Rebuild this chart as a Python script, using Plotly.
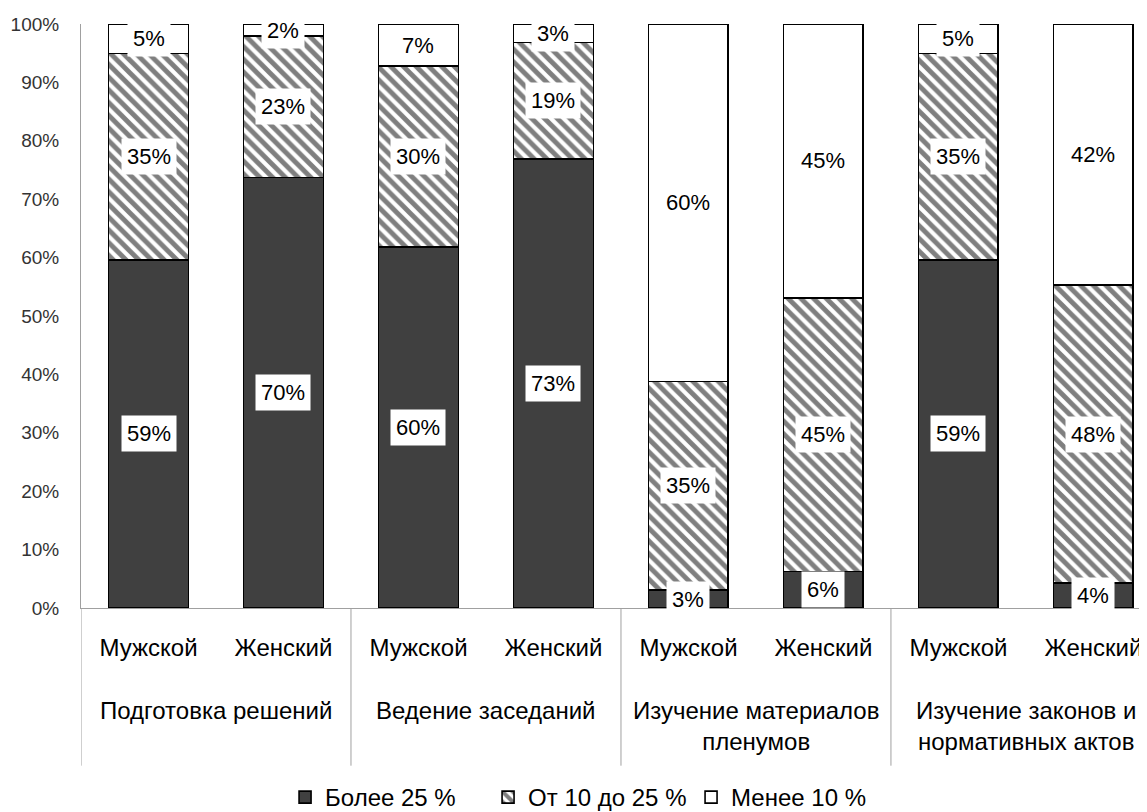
import plotly.graph_objects as go

# ── Data ──────────────────────────────────────────────────────────────────────
groups = [
    "Подготовка решений",
    "Ведение заседаний",
    "Изучение материалов<br>пленумов",
    "Изучение законов и<br>нормативных актов",
]
sexes = ["Мужской", "Женский"]

series_names = ["Более 25 %", "От 10 до 25 %", "Менее 10 %"]
more_25 = [59, 70, 60, 73, 3, 6, 59, 4]
from_10_25 = [35, 23, 30, 19, 35, 45, 35, 48]
less_10 = [5, 2, 7, 3, 60, 45, 5, 42]

y_tickvals = [0, 10, 20, 30, 40, 50, 60, 70, 80, 90, 100]
y_ticktext = ["0%", "10%", "20%", "30%", "40%", "50%", "60%", "70%", "80%", "90%", "100%"]

# ── Styles ────────────────────────────────────────────────────────────────────
FONT = "Liberation Sans, Arial, sans-serif"
DARK = "#404040"
GRID_GREY = "#a0a0a0"
# the page body adds an 8px offset, so margins are 8px smaller than on screen;
# the last slot runs past the right edge, as in the source
X_RANGE = [-0.5, 7.456]

n_sex = len(sexes)
x_pos = list(range(len(groups) * n_sex))
x_ticktext = [s for _ in groups for s in sexes]

series = [more_25, from_10_25, less_10]
markers = [
    dict(color=DARK),
    dict(color="white", pattern=dict(shape="\\", fgcolor="black", bgcolor="white",
                                     size=9, solidity=0.55)),
    dict(color="white"),
]

fig = go.Figure()
for name, vals, mk in zip(series_names, series, markers):
    fig.add_trace(go.Bar(
        x=x_pos,
        y=vals,
        name=name,
        marker=dict(**mk, line=dict(color="black", width=1.6)),
        hoverinfo="skip",
    ))

# ── Data labels: white boxes centred in each normalised segment ──────────────
annotations = []
totals = [a + b + c for a, b, c in zip(more_25, from_10_25, less_10)]
for i in x_pos:
    base = 0.0
    for vals in series:
        h = vals[i] / totals[i] * 100
        annotations.append(dict(
            x=i, y=base + h / 2, xref="x", yref="y",
            text=f"{vals[i]}%", showarrow=False,
            bgcolor="white", borderpad=5,
            font=dict(family=FONT, size=22, color="black"),
        ))
        base += h

# ── Outer category labels and dividers ──────────────────────────────────────
shapes = []
for g, label in enumerate(groups):
    centre = g * n_sex + (n_sex - 1) / 2
    annotations.append(dict(
        x=centre, y=-0.149, xref="x", yref="paper",
        text=label, showarrow=False, yanchor="top",
        font=dict(family=FONT, size=24, color="black"),
    ))
    left = g * n_sex - 0.5
    shapes.append(dict(
        type="line", xref="x", yref="paper",
        x0=left, x1=left, y0=0, y1=-0.270,
        line=dict(color=GRID_GREY, width=1),
    ))

fig.update_layout(
    barmode="stack",
    barnorm="percent",
    bargap=0.41,
    width=1147,
    height=812,
    margin=dict(l=73, r=0, t=16, b=212),
    paper_bgcolor="white",
    plot_bgcolor="white",
    font=dict(family=FONT, size=20, color="black"),
    showlegend=True,
    legend=dict(
        orientation="h", x=0.19, xanchor="left", y=-0.325, yanchor="middle",
        font=dict(size=24), itemwidth=30, traceorder="normal",
        entrywidth=158, entrywidthmode="pixels",
    ),
    xaxis=dict(
        range=X_RANGE, tickvals=x_pos, ticktext=x_ticktext,
        showline=True, linecolor=GRID_GREY, linewidth=1,
        showgrid=False, zeroline=False, ticks="",
        ticklabelstandoff=18, ticklabeloverflow="allow",
        tickfont=dict(size=24, color="black"),
        automargin=False,
    ),
    yaxis=dict(
        range=[0, 100], tickvals=y_tickvals, ticktext=y_ticktext,
        showline=True, linecolor=GRID_GREY, linewidth=1,
        showgrid=False, zeroline=False, ticks="",
        ticklabelstandoff=17,
        tickfont=dict(size=19, color="#333333"),
        automargin=False,
    ),
    annotations=annotations,
    shapes=shapes,
)

fig.write_html("out.html")
